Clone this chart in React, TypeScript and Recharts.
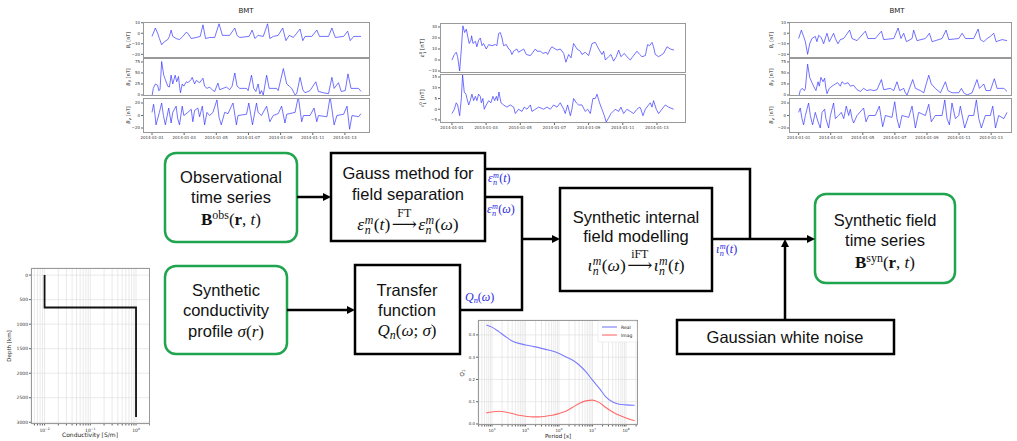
import { LineChart, Line, XAxis, YAxis, CartesianGrid } from "recharts";

type Pt = [number, number];

// day offsets from 2014-01-01
const DAY_TICKS = [0, 2, 4, 6, 8, 10, 12];
const DAY_LABELS = ["2014-01-01", "2014-01-03", "2014-01-05", "2014-01-07", "2014-01-09", "2014-01-11", "2014-01-13"];

// observed BMT components (left block)
const OBS_BR: Pt[] = [[0,-3],[0.21,5],[0.35,0],[0.46,-5],[0.6,-11],[0.77,-8],[0.98,-6],[1.08,-3],[1.19,3],[1.29,-3],[1.5,-5],[1.71,-6],[1.92,-3],[2.13,1],[2.23,0],[2.44,-5],[2.75,-4],[3.0,-3],[3.17,8],[3.33,-5],[3.58,-4],[3.9,-4],[4.17,9],[4.38,-2],[4.83,-2],[5.15,5],[5.29,-2],[5.46,-4],[6.04,-3],[6.23,3],[6.4,-5],[6.6,-2],[6.92,-3],[7.19,9],[7.33,-5],[7.54,-3],[7.85,-2],[8.13,5],[8.33,-7],[8.54,-2],[8.79,-4],[9.0,0],[9.21,4],[9.38,-7],[9.52,-3],[9.94,-3],[10.25,3],[10.42,-3],[10.98,-3],[11.19,5],[11.4,-4],[11.92,-3],[12.17,2],[12.33,-7],[12.54,-3],[13.0,-3]];
const OBS_BT: Pt[] = [[0,-3],[0.08,15],[0.21,25],[0.35,22],[0.42,10],[0.5,12],[0.6,76],[0.73,45],[0.83,35],[0.98,20],[1.08,18],[1.19,45],[1.29,25],[1.44,45],[1.54,30],[1.65,42],[1.71,20],[1.77,5],[1.88,25],[1.98,20],[2.13,30],[2.23,28],[2.44,35],[2.5,40],[2.65,25],[2.75,33],[2.96,28],[3.17,38],[3.27,20],[3.42,15],[3.58,18],[3.79,10],[3.9,8],[4.1,27],[4.21,12],[4.42,15],[4.63,18],[4.83,12],[4.98,20],[5.15,50],[5.29,20],[5.46,15],[5.88,15],[5.98,10],[6.19,45],[6.33,15],[6.46,8],[6.6,25],[6.71,2],[6.81,10],[6.92,0],[7.13,45],[7.29,15],[7.75,15],[7.85,10],[8.17,60],[8.38,25],[8.54,20],[8.69,15],[8.9,0],[9.0,3],[9.21,40],[9.38,12],[9.52,5],[9.83,10],[10.19,30],[10.35,8],[10.67,5],[10.98,3],[11.19,40],[11.33,15],[11.6,28],[11.77,8],[12.02,10],[12.19,48],[12.38,15],[12.85,15],[13.0,8]];
const OBS_BP: Pt[] = [[0,5],[0.1,18],[0.19,0],[0.25,-15],[0.46,5],[0.6,20],[0.71,0],[0.83,-15],[1.04,12],[1.19,-12],[1.29,5],[1.5,15],[1.6,-5],[1.71,-15],[1.88,15],[1.98,0],[2.23,5],[2.44,10],[2.54,-10],[2.65,8],[2.85,12],[2.96,-2],[3.13,15],[3.27,-15],[3.42,5],[3.58,0],[3.79,5],[4.04,25],[4.17,-3],[4.31,-15],[4.52,5],[4.73,3],[4.94,15],[5.04,20],[5.25,-15],[5.35,0],[5.88,2],[6.02,20],[6.25,-15],[6.5,20],[6.6,5],[6.81,0],[7.13,15],[7.33,-10],[7.54,0],[7.85,3],[8.06,15],[8.27,-12],[8.38,2],[8.9,5],[9.1,30],[9.31,-10],[9.42,0],[9.83,0],[10.08,12],[10.25,-10],[10.35,0],[10.88,-2],[11.08,30],[11.33,-15],[11.5,0],[11.92,2],[12.13,15],[12.29,-22],[12.44,0],[12.85,-2],[13.0,3]];

// separated external / internal coefficients (middle block)
const EXT_E10: Pt[] = [[0,0],[0.14,5],[0.25,7],[0.33,3],[0.45,-10],[0.55,10],[0.64,31],[0.74,25],[0.84,28],[0.94,20],[1.01,15],[1.11,18],[1.15,22],[1.23,15],[1.37,17],[1.46,12],[1.56,18],[1.66,20],[1.76,13],[1.85,15],[2.01,10],[2.15,14],[2.34,13],[2.54,14],[2.63,13],[2.73,24],[2.83,25],[2.93,20],[3.02,13],[3.18,14],[3.32,10],[3.41,9],[3.51,5],[3.61,8],[3.8,10],[3.9,7],[4.1,9],[4.2,10],[4.35,5],[4.59,4],[4.74,7],[4.88,10],[4.98,8],[5.17,8],[5.33,6],[5.52,7],[5.6,5],[5.76,10],[5.85,12],[6.05,10],[6.15,9],[6.34,10],[6.54,6],[6.67,-2],[6.83,5],[6.97,2],[7.12,15],[7.32,10],[7.51,8],[7.61,5],[7.8,7],[8.0,4],[8.2,15],[8.39,16],[8.59,10],[8.78,5],[8.88,8],[8.98,0],[9.17,3],[9.31,5],[9.46,-1],[9.62,3],[9.76,9],[9.89,3],[10.09,6],[10.24,3],[10.44,0],[10.58,3],[10.83,8],[10.99,5],[11.12,3],[11.32,4],[11.45,14],[11.57,13],[11.71,16],[11.8,12],[11.9,5],[12.1,3],[12.39,6],[12.59,12],[12.78,10],[13.0,9]];
const INT_I10: Pt[] = [[0,-2],[0.14,0],[0.25,3],[0.33,2],[0.45,-3],[0.55,5],[0.62,16],[0.72,8],[0.82,7],[0.88,5],[0.98,2],[1.07,4],[1.17,7],[1.27,4],[1.37,6],[1.46,4],[1.56,7],[1.66,6],[1.72,3],[1.81,5],[1.89,0],[2.01,2],[2.15,4],[2.28,3],[2.4,6],[2.5,4],[2.6,6],[2.67,4],[2.75,8],[2.87,3],[3.02,2],[3.22,1],[3.41,2],[3.61,1],[3.71,-2],[3.9,0],[4.1,-1],[4.23,1],[4.39,0],[4.59,2],[4.68,-1],[4.88,0],[5.07,1],[5.37,0],[5.56,1],[5.76,0],[5.95,2],[6.15,1],[6.34,3],[6.54,0],[6.63,-2],[6.77,2],[6.93,-3],[7.02,0],[7.12,5],[7.28,3],[7.41,2],[7.61,2],[7.8,-1],[7.94,0],[8.1,-2],[8.25,5],[8.39,5],[8.49,7],[8.64,3],[8.78,0],[8.92,-3],[9.03,-6],[9.17,-4],[9.31,-2],[9.56,0],[9.76,-1],[9.89,1],[10.05,-2],[10.24,0],[10.44,-1],[10.63,-2],[10.83,0],[10.99,1],[11.06,0],[11.18,-3],[11.32,0],[11.51,2],[11.61,3],[11.71,1],[11.8,4],[11.96,0],[12.1,-2],[12.29,0],[12.49,2],[12.68,1],[12.98,0]];

// synthetic BMT components (right block)
const SYN_BR: Pt[] = [[0,-5],[0.17,3],[0.31,-3],[0.42,-8],[0.56,-20],[0.69,-10],[0.83,-5],[1.04,-3],[1.14,-8],[1.25,-2],[1.41,-4],[1.56,-10],[1.7,-3],[1.77,0],[1.91,-8],[2.08,-3],[2.18,0],[2.29,-5],[2.45,-10],[2.6,-6],[2.81,-5],[3.18,3],[3.33,-5],[3.64,-7],[4.16,2],[4.32,-5],[4.78,-5],[5.16,2],[5.3,-6],[5.93,-5],[6.2,5],[6.38,-5],[6.55,0],[6.72,-8],[7.07,-5],[7.17,3],[7.38,-7],[7.9,-5],[8.15,0],[8.32,-8],[8.94,-5],[9.19,3],[9.36,-6],[9.98,-5],[10.19,0],[10.4,-5],[10.91,-5],[11.19,4],[11.33,-6],[11.54,-8],[11.75,-5],[11.95,-3],[12.16,0],[12.31,-8],[12.68,-6],[12.99,-7]];
const SYN_BT: Pt[] = [[0,-5],[0.1,10],[0.21,15],[0.37,10],[0.42,15],[0.56,70],[0.69,40],[0.83,28],[1.0,15],[1.08,10],[1.21,30],[1.29,20],[1.39,40],[1.52,30],[1.62,38],[1.7,15],[1.77,3],[1.91,15],[2.08,20],[2.29,25],[2.43,28],[2.6,20],[2.7,30],[2.87,25],[3.08,28],[3.22,20],[3.43,22],[3.64,12],[3.85,8],[4.05,15],[4.26,10],[4.47,12],[4.68,10],[4.89,12],[5.16,35],[5.3,12],[5.72,15],[5.93,10],[6.13,30],[6.3,10],[6.55,15],[6.65,5],[6.76,0],[7.11,35],[7.28,15],[7.59,10],[7.8,5],[8.11,45],[8.27,25],[8.52,15],[8.84,5],[9.15,30],[9.31,10],[9.56,5],[9.98,5],[10.15,15],[10.29,5],[10.5,0],[10.81,5],[11.12,35],[11.27,15],[11.54,25],[11.68,10],[11.95,10],[12.2,37],[12.37,15],[12.79,15],[12.99,8]];
const SYN_BP: Pt[] = [[0,5],[0.1,12],[0.21,-5],[0.31,-15],[0.42,0],[0.52,10],[0.62,20],[0.73,0],[0.87,-15],[1.04,5],[1.21,-10],[1.35,-20],[1.46,5],[1.62,10],[1.7,-5],[1.87,-20],[1.98,0],[2.18,20],[2.29,-5],[2.49,0],[2.66,5],[2.81,-5],[2.97,15],[3.12,0],[3.22,10],[3.33,-5],[3.43,-12],[3.64,0],[4.05,12],[4.2,-10],[4.37,0],[4.78,0],[5.03,15],[5.24,-18],[5.41,0],[5.82,-3],[5.99,22],[6.13,-5],[6.28,-20],[6.44,0],[6.86,-3],[7.07,15],[7.28,-20],[7.48,5],[7.9,0],[8.11,18],[8.27,-10],[8.52,0],[8.94,0],[9.11,25],[9.25,-5],[9.4,-15],[9.56,20],[9.77,-5],[9.98,0],[10.08,15],[10.35,-20],[10.6,0],[10.91,0],[11.08,25],[11.23,-5],[11.39,-20],[11.64,0],[11.95,0],[12.1,15],[12.27,-20],[12.47,0],[12.79,-5],[12.99,5]];

// conductivity profile
const COND_DEPTH = [0, 660, 660, 2890];
const COND_SIGMA = [0.01, 0.01, 1, 1];
const COND_MAJOR = [0.01, 0.1, 1];
const COND_GRID = [0.006, 0.007, 0.008, 0.009, 0.01, 0.02, 0.03, 0.04, 0.05, 0.06, 0.07, 0.08, 0.09, 0.1, 0.2, 0.3, 0.4, 0.5, 0.6, 0.7, 0.8, 0.9, 1, 2];
const DEPTH_TICKS = [0, 500, 1000, 1500, 2000, 2500, 3000];

// transfer function Q1
const Q_PERIOD = [6.8e3, 1e4, 1.6e4, 2.5e4, 4e4, 6.3e4, 1e5, 1.6e5, 2.5e5, 4e5, 6.3e5, 1e6, 1.6e6, 2.5e6, 4e6, 6.3e6, 1e7, 1.6e7, 2.5e7, 4e7, 6.3e7, 1e8, 1.8e8];
const Q_REAL = [0.445, 0.435, 0.415, 0.393, 0.373, 0.362, 0.355, 0.349, 0.343, 0.335, 0.328, 0.317, 0.302, 0.287, 0.265, 0.235, 0.197, 0.16, 0.122, 0.099, 0.089, 0.086, 0.084];
const Q_IMAG = [0.05, 0.054, 0.057, 0.054, 0.047, 0.039, 0.035, 0.032, 0.032, 0.035, 0.039, 0.047, 0.057, 0.074, 0.092, 0.104, 0.107, 0.096, 0.074, 0.054, 0.039, 0.027, 0.015];
const Q_MAJOR = [1e4, 1e5, 1e6, 1e7, 1e8];
const Q_GRID = [4e3, 5e3, 6e3, 7e3, 8e3, 9e3].concat(
  [1e4, 1e5, 1e6, 1e7].flatMap((d) => [1, 2, 3, 4, 5, 6, 7, 8, 9].map((k) => k * d)), [1e8, 2e8]
);
const Q_TICKS = [0, 0.1, 0.2, 0.3, 0.4];

const SANS = '"Liberation Sans", Arial, sans-serif';
const SERIF = '"Liberation Serif", "DejaVu Serif", serif';
const MPL = '"DejaVu Sans", sans-serif';
const BLUE = "#2a2ae0";
const GREEN = "#1ea54e";
const minus = (v: number) => String(v).replace("-", "\u2212");

function TsPanel({ left, top, width, height, pts, domain, ticks, xDomain, dates }: {
  left: number; top: number; width: number; height: number; pts: Pt[];
  domain: [number, number]; ticks: number[]; xDomain: [number, number]; dates?: boolean;
}) {
  const YW = 18, XH = 9, PAD = 3;
  const data = pts.map(([t, v]) => ({ t, v }));
  const tick = { fontSize: 4, fill: "#333", fontFamily: MPL };
  return (
    <div style={{ position: "absolute", left: left - YW, top: top - PAD }}>
      <LineChart width={width + YW} height={height + PAD * 2 + (dates ? XH : 0)} data={data} margin={{ top: PAD, right: 0, bottom: PAD, left: 0 }}>
        <XAxis type="number" dataKey="t" domain={xDomain} ticks={DAY_TICKS} interval={0} hide={!dates} height={XH}
          tickSize={2} tickMargin={1} axisLine={false} tick={tick} allowDataOverflow
          tickFormatter={(d) => DAY_LABELS[DAY_TICKS.indexOf(d)]} />
        <YAxis type="number" domain={domain} ticks={ticks} interval={0} width={YW} tickSize={2} tickMargin={1}
          axisLine={false} tick={tick} allowDataOverflow tickFormatter={minus} />
        <Line type="linear" dataKey="v" stroke="#3535ff" strokeWidth={0.7} dot={false} isAnimationActive={false} />
      </LineChart>
      <div style={{ position: "absolute", left: YW, top: PAD, width, height, border: "1px solid #999", boxSizing: "border-box", pointerEvents: "none" }} />
    </div>
  );
}

function LogTick(props: any) {
  const { x, y, payload, majors, fs } = props;
  const v = payload.value;
  if (!majors.includes(v)) return <g />;
  const e = Math.round(Math.log10(v));
  return (
    <text x={x} y={y + fs * 0.9} textAnchor="middle" fontSize={fs} fill="#333" fontFamily={MPL}>
      10<tspan dy={-fs * 0.45} fontSize={fs * 0.7}>{e < 0 ? `\u2212${-e}` : e}</tspan>
    </text>
  );
}

function CondChart() {
  const data = COND_DEPTH.map((d, i) => ({ s: COND_SIGMA[i], d }));
  const YW = 20, W = 119, H = 156;
  const tick = { fontSize: 4.5, fill: "#333", fontFamily: MPL };
  return (
    <div style={{ position: "absolute", left: 31 - YW, top: 265 }}>
      <LineChart width={W + YW} height={H + 13} data={data} margin={{ top: 3, right: 0, bottom: 0, left: 0 }}>
        <CartesianGrid stroke="#dcdcdc" strokeWidth={0.6} />
        <XAxis type="number" dataKey="s" scale="log" domain={[0.00505, 2.02]} ticks={COND_GRID} interval={0} height={10}
          tickSize={1.5} axisLine={false} allowDataOverflow tick={(p: any) => <LogTick {...p} majors={COND_MAJOR} fs={4.5} />} />
        <YAxis type="number" dataKey="d" reversed domain={[-145, 3035]} ticks={DEPTH_TICKS} interval={0} width={YW}
          tickSize={2} tickMargin={1} axisLine={false} tick={tick} allowDataOverflow />
        <Line type="linear" dataKey="d" stroke="#111" strokeWidth={1.8} dot={false} isAnimationActive={false} />
      </LineChart>
      <div style={{ position: "absolute", left: YW, top: 3, width: W, height: H, border: "1px solid #999", boxSizing: "border-box" }} />
    </div>
  );
}

function QChart() {
  const data = Q_PERIOD.map((p, i) => ({ p, re: Q_REAL[i], im: Q_IMAG[i] }));
  const YW = 16, W = 160, H = 105;
  const tick = { fontSize: 4, fill: "#333", fontFamily: MPL };
  return (
    <div style={{ position: "absolute", left: 478 - YW, top: 317 }}>
      <LineChart width={W + YW} height={H + 13} data={data} margin={{ top: 3, right: 0, bottom: 0, left: 0 }}>
        <CartesianGrid stroke="#dcdcdc" strokeWidth={0.6} />
        <XAxis type="number" dataKey="p" scale="log" domain={[3820, 2.28e8]} ticks={Q_GRID} interval={0} height={10}
          tickSize={1.5} axisLine={false} allowDataOverflow tick={(p: any) => <LogTick {...p} majors={Q_MAJOR} fs={4} />} />
        <YAxis type="number" domain={[-0.0045, 0.467]} ticks={Q_TICKS} interval={0} width={YW} tickSize={2} tickMargin={1}
          axisLine={false} tick={tick} allowDataOverflow tickFormatter={(v) => v.toFixed(1)} />
        <Line type="monotone" dataKey="re" stroke="#7b7bff" strokeWidth={1.1} dot={false} isAnimationActive={false} />
        <Line type="monotone" dataKey="im" stroke="#ff6b6b" strokeWidth={1.1} dot={false} isAnimationActive={false} />
      </LineChart>
      <div style={{ position: "absolute", left: YW, top: 3, width: W, height: H, border: "1px solid #999", boxSizing: "border-box" }} />
    </div>
  );
}

function Txt({ x, y, size = 16.5, color = "#111", font = SANS, align = "center", children }: any) {
  return (
    <div style={{ position: "absolute", left: x, top: y, transform: align === "center" ? "translate(-50%, -50%)" : "translate(0, -50%)",
      whiteSpace: "nowrap", fontFamily: font, fontSize: size, color, lineHeight: 1 }}>
      {children}
    </div>
  );
}

function SS({ sup, sub }: { sup: string; sub: string }) {
  return (
    <span style={{ display: "inline-block", verticalAlign: "-0.35em", lineHeight: 0.85, fontSize: "0.68em", fontStyle: "italic", textAlign: "left", margin: "0 0.04em" }}>
      {sup}<br />{sub}
    </span>
  );
}

function Over({ label }: { label: string }) {
  return (
    <span style={{ position: "relative", display: "inline-block", margin: "0 0.08em" }}>
      <span style={{ position: "absolute", left: "-0.5em", right: "-0.5em", top: "-0.7em", textAlign: "center", fontSize: "0.68em", fontStyle: "normal", lineHeight: 1 }}>{label}</span>
      {"\u27F6"}
    </span>
  );
}

const arrowR = (x: number, y: number) => `${x},${y} ${x - 8},${y - 4} ${x - 8},${y + 4}`;
const arrowU = (x: number, y: number) => `${x},${y} ${x - 4},${y + 8} ${x + 4},${y + 8}`;

export default function App() {
  const L: [number, number] = [-0.56, 13.56];
  const M: [number, number] = [-0.7, 13.7];
  const R: [number, number] = [-0.6, 13.3];
  return (
    <div style={{ position: "absolute", left: 0, top: 0, width: 1017, height: 441, background: "#fff", overflow: "hidden" }}>
      {/* observed */}
      <TsPanel left={143} top={22} width={227} height={36} pts={OBS_BR} domain={[-23.5, 10.7]} ticks={[-20, -10, 0, 10]} xDomain={L} />
      <TsPanel left={143} top={58} width={227} height={38} pts={OBS_BT} domain={[-2.3, 84]} ticks={[0, 25, 50, 75]} xDomain={L} />
      <TsPanel left={143} top={98} width={227} height={35} pts={OBS_BP} domain={[-28, 28]} ticks={[-20, 0, 20]} xDomain={L} dates />
      {/* separated */}
      <TsPanel left={440} top={23} width={246} height={50} pts={EXT_E10} domain={[-11.8, 33.6]} ticks={[-10, 0, 10, 20, 30]} xDomain={M} />
      <TsPanel left={440} top={74} width={246} height={49} pts={INT_I10} domain={[-6.4, 16.4]} ticks={[-5, 0, 5, 10, 15]} xDomain={M} dates />
      {/* synthetic */}
      <TsPanel left={789} top={22} width={223} height={36} pts={SYN_BR} domain={[-23.5, 10.7]} ticks={[-20, -10, 0, 10]} xDomain={R} />
      <TsPanel left={789} top={58} width={223} height={38} pts={SYN_BT} domain={[-2.3, 84]} ticks={[0, 25, 50, 75]} xDomain={R} />
      <TsPanel left={789} top={98} width={223} height={35} pts={SYN_BP} domain={[-28, 28]} ticks={[-20, 0, 20]} xDomain={R} dates />
      <CondChart />
      <QChart />

      <svg width={1017} height={441} style={{ position: "absolute", left: 0, top: 0, pointerEvents: "none" }}>
        <g fontFamily={MPL} fill="#222">
          <text x={246} y={13} fontSize={7} textAnchor="middle">BMT</text>
          <text x={897} y={13} fontSize={7} textAnchor="middle">BMT</text>
          {[[130, 40, "r"], [130, 77, "\u03b8"], [130, 115, "\u03c6"], [773, 40, "r"], [773, 77, "\u03b8"], [773, 115, "\u03c6"]].map(([x, y, s]) => (
            <text key={`${x}-${y}`} transform={`translate(${x},${y}) rotate(-90)`} fontSize={5} textAnchor="middle">
              <tspan fontStyle="italic">B</tspan><tspan dy={1.2} fontSize={3.6} fontStyle="italic">{s}</tspan><tspan dy={-1.2}> [nT]</tspan>
            </text>
          ))}
          <text transform="translate(424,48) rotate(-90)" fontSize={5.5} textAnchor="middle">
            <tspan fontStyle="italic">{"\u03b5"}</tspan><tspan dy={-2} fontSize={3.8}>0</tspan><tspan dx={-2.2} dy={3.6} fontSize={3.8}>1</tspan><tspan dy={-1.6}> [nT]</tspan>
          </text>
          <text transform="translate(424,98) rotate(-90)" fontSize={5.5} textAnchor="middle">
            <tspan fontStyle="italic">{"\u03b9"}</tspan><tspan dy={-2} fontSize={3.8}>0</tspan><tspan dx={-2.2} dy={3.6} fontSize={3.8}>1</tspan><tspan dy={-1.6}> [nT]</tspan>
          </text>
          <text transform="translate(11,346) rotate(-90)" fontSize={5.5} textAnchor="middle">Depth [km]</text>
          <text x={90} y={437} fontSize={6} textAnchor="middle">Conductivity [S/m]</text>
          <text transform="translate(464,373) rotate(-90)" fontSize={5.5} textAnchor="middle">
            <tspan fontStyle="italic">Q</tspan><tspan dy={1.2} fontSize={4}>1</tspan>
          </text>
          <text x={558} y={438} fontSize={5.5} textAnchor="middle">Period [s]</text>
          {/* legend */}
          <rect x={598} y={321} width={39} height={21} fill="#fff" stroke="#ddd" strokeWidth={0.5} rx={1} />
          <line x1={602} y1={327} x2={617} y2={327} stroke="#7b7bff" strokeWidth={1.1} />
          <line x1={602} y1={335} x2={617} y2={335} stroke="#ff6b6b" strokeWidth={1.1} />
          <text x={621} y={328.6} fontSize={4.5}>Real</text>
          <text x={621} y={336.6} fontSize={4.5}>Imag</text>
        </g>

        <g fill="none" stroke="#000" strokeWidth={2.5}>
          <rect x={165} y={153} width={132} height={89} rx={11} stroke={GREEN} />
          <rect x={165} y={266} width={122} height={88} rx={11} stroke={GREEN} />
          <rect x={815} y={194} width={140} height={89} rx={11} stroke={GREEN} />
          <rect x={331} y={153} width={154} height={88} />
          <rect x={560} y={188} width={152} height={103} />
          <rect x={355} y={265} width={105} height={89} />
          <rect x={677} y={320} width={217} height={34} />
          <polyline points="297,197 324,197" />
          <polyline points="485,169 750,169 750,239" />
          <polyline points="485,197 522,197 522,310 460,310" />
          <polyline points="522,239 553,239" />
          <polyline points="712,239 808,239" />
          <polyline points="785,320 785,246" />
          <polyline points="287,310 348,310" />
        </g>
        <g fill="#000">
          <polygon points={arrowR(331, 197)} />
          <polygon points={arrowR(560, 239)} />
          <polygon points={arrowR(815, 239)} />
          <polygon points={arrowR(355, 310)} />
          <polygon points={arrowU(785, 239)} />
        </g>
      </svg>

      <Txt x={231} y={177}>Observational</Txt>
      <Txt x={231} y={197}>time series</Txt>
      <Txt x={231} y={219} font={SERIF} size={17}><b>B</b><span style={{ fontSize: "0.7em", verticalAlign: "0.55em" }}>obs</span>(<b>r</b>, <i>t</i>)</Txt>

      <Txt x={408} y={173}>Gauss method for</Txt>
      <Txt x={408} y={194}>field separation</Txt>
      <Txt x={408} y={225} font={SERIF} size={17.5}><i>ε</i><SS sup="m" sub="n" />(<i>t</i>)<Over label="FT" /><i>ε</i><SS sup="m" sub="n" />(<i>ω</i>)</Txt>

      <Txt x={636} y={217}>Synthetic internal</Txt>
      <Txt x={636} y={236}>field modelling</Txt>
      <Txt x={636} y={266} font={SERIF} size={17.5}><i>ι</i><SS sup="m" sub="n" />(<i>ω</i>)<Over label="iFT" /><i>ι</i><SS sup="m" sub="n" />(<i>t</i>)</Txt>

      <Txt x={885} y={220}>Synthetic field</Txt>
      <Txt x={885} y={240}>time series</Txt>
      <Txt x={885} y={262} font={SERIF} size={17}><b>B</b><span style={{ fontSize: "0.7em", verticalAlign: "0.55em" }}>syn</span>(<b>r</b>, <i>t</i>)</Txt>

      <Txt x={407} y={290}>Transfer</Txt>
      <Txt x={407} y={310}>function</Txt>
      <Txt x={407} y={332} font={SERIF} size={17}><i>Q</i><span style={{ fontSize: "0.7em", verticalAlign: "-0.3em", fontStyle: "italic" }}>n</span>(<i>ω</i>; <i>σ</i>)</Txt>

      <Txt x={226} y={290}>Synthetic</Txt>
      <Txt x={226} y={310}>conductivity</Txt>
      <Txt x={226} y={331}>profile <span style={{ fontFamily: SERIF, fontSize: 17 }}><i>σ</i>(<i>r</i>)</span></Txt>

      <Txt x={785} y={337}>Gaussian white noise</Txt>

      <Txt x={488} y={179} align="left" font={SERIF} size={12} color={BLUE}><i>ε</i><SS sup="m" sub="n" />(<i>t</i>)</Txt>
      <Txt x={487} y={210} align="left" font={SERIF} size={12} color={BLUE}><i>ε</i><SS sup="m" sub="n" />(<i>ω</i>)</Txt>
      <Txt x={465} y={298} align="left" font={SERIF} size={12} color={BLUE}><i>Q</i><span style={{ fontSize: "0.7em", verticalAlign: "-0.3em", fontStyle: "italic" }}>n</span>(<i>ω</i>)</Txt>
      <Txt x={716} y={250} align="left" font={SERIF} size={12} color={BLUE}><i>ι</i><SS sup="m" sub="n" />(<i>t</i>)</Txt>
    </div>
  );
}
